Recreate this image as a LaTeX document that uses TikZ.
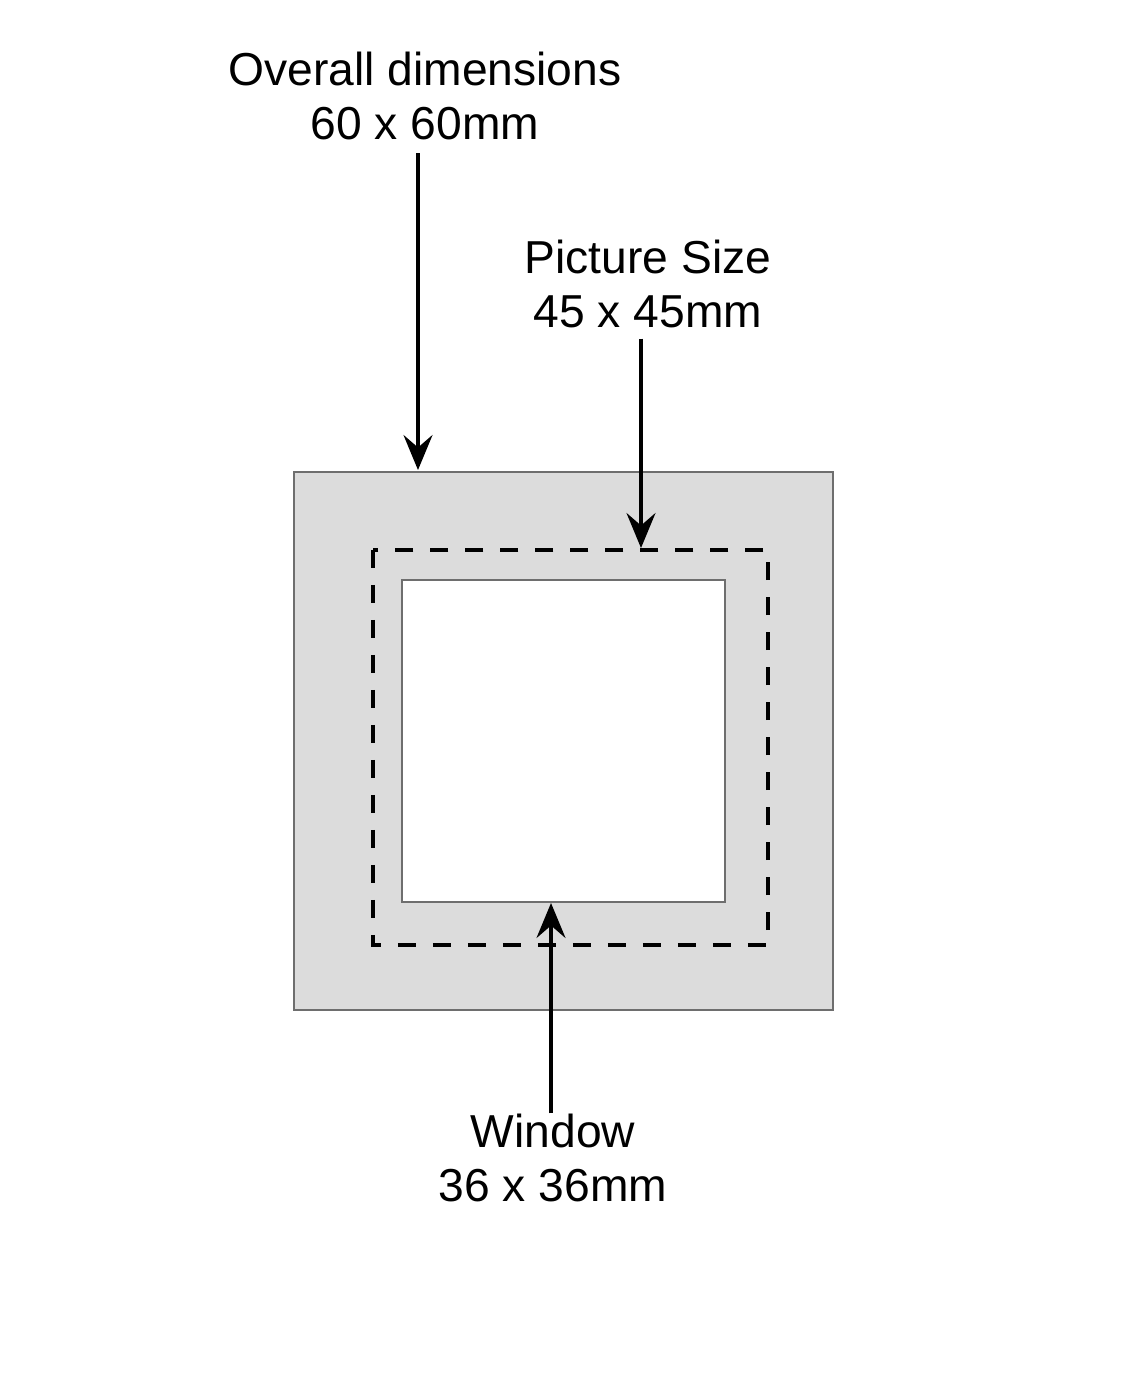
\documentclass[tikz,border=0pt]{standalone}
\usepackage{fontspec}
\setmainfont{Liberation Sans}
\usetikzlibrary{arrows.meta}
\definecolor{mat1}{HTML}{DCDCDC}
\definecolor{edge1}{HTML}{6E6E6E}

\begin{document}
\begin{tikzpicture}[
    x=0.02cm, y=-0.02cm,
    label/.style={align=center, inner sep=0pt,
                  font=\fontsize{26.3}{31}\selectfont},
    pointer/.style={-{Stealth[length=0.7cm, width=0.58cm, inset=0.25cm]},
                    line width=2pt},
    cut/.style={line width=2.2pt, dash pattern=on 0.36cm off 0.34cm},
]
\useasboundingbox (0,0) rectangle (1140,1378);

% mount board and window
\draw[fill=mat1, draw=edge1, line width=1pt] (294,472) rectangle (833,1010);
\draw[cut] (373,550) rectangle (768,945);
\draw[fill=white, draw=edge1, line width=1pt] (402,580) rectangle (725,902);

% arrow tips
\coordinate (outertop) at (418,470);
\coordinate (pictop) at (641,548);
\coordinate (winbot) at (551,903);

% labels
\node[label] (overall) at (425,96) {Overall dimensions\\60 x 60mm};
\node[label] (picsize) at (648,284) {Picture Size\\45 x 45mm};
\node[label] (window) at (553,1158) {Window\\36 x 36mm};

\draw[pointer, shorten <=0.25cm] (overall.south -| outertop) -- (outertop);
\draw[pointer, shorten <=0.2cm] (picsize.south -| pictop) -- (pictop);
\draw[pointer] (window.north -| winbot) -- (winbot);
\end{tikzpicture}
\end{document}
